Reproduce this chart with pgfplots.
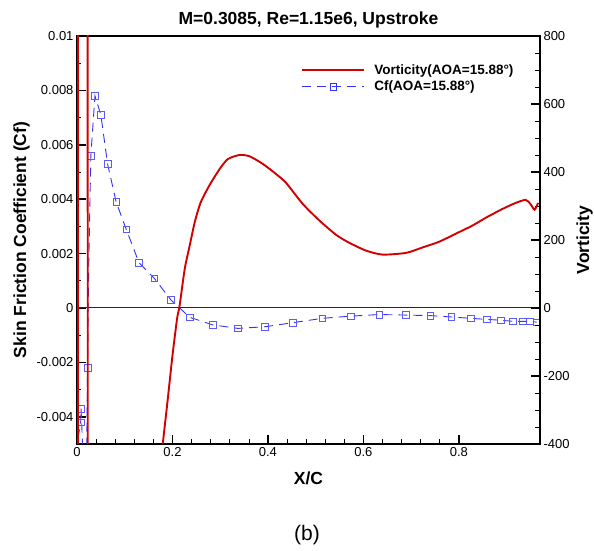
\documentclass[border=0pt]{standalone}
\usepackage{pgfplots}
\pgfplotsset{compat=1.18}
\usepackage{fontspec}
\setmainfont{Liberation Sans}
\definecolor{vred}{RGB}{210,0,0}
\definecolor{cfblue}{RGB}{50,50,245}
\pgfplotstableread{
x y
0.0015 -0.0070
0.0030 -0.0047
0.0077 -0.0042
0.0085 -0.0037
0.0140 -0.0060
0.0200 -0.0060
0.0220 -0.0022
0.0245 0.0015
0.0290 0.0056
0.0376 0.0078
0.0500 0.0071
0.0640 0.0053
0.0820 0.0039
0.1030 0.0029
0.1300 0.00166
0.1620 0.00109
0.1965 0.0003
0.2360 -0.00034
0.2840 -0.00062
0.3370 -0.00075
0.3940 -0.00069
0.4520 -0.00054
0.5140 -0.00038
0.5730 -0.00030
0.6330 -0.00024
0.6890 -0.00026
0.7400 -0.00028
0.7840 -0.00033
0.8250 -0.00038
0.8590 -0.00042
0.8880 -0.00045
0.9130 -0.00049
0.9340 -0.00049
0.9490 -0.00049
0.9630 -0.00052
}\cfdata
\pgfplotstableread{
x y
0.0077 -0.0042
0.0085 -0.0037
0.0220 -0.0022
0.0290 0.0056
0.0376 0.0078
0.0500 0.0071
0.0640 0.0053
0.0820 0.0039
0.1030 0.0029
0.1300 0.00166
0.1620 0.00109
0.1965 0.0003
0.2360 -0.00034
0.2840 -0.00062
0.3370 -0.00075
0.3940 -0.00069
0.4520 -0.00054
0.5140 -0.00038
0.5730 -0.00030
0.6330 -0.00024
0.6890 -0.00026
0.7400 -0.00028
0.7840 -0.00033
0.8250 -0.00038
0.8590 -0.00042
0.8880 -0.00045
0.9130 -0.00049
0.9340 -0.00049
0.9490 -0.00049
0.9630 -0.00052
}\cfmarks
\pgfplotstableread{
x y
0.0010 -5000
0.0030 5000
0.0210 5000
0.0240 -5000
0.1000 -3000
0.1780 -420
}\vortle
\pgfplotstableread{
x y
0.1780 -420
0.1900 -270
0.2000 -140
0.2096 -32
0.2150 7
0.2257 115
0.2360 183
0.2466 252
0.2590 310
0.2780 362
0.2990 409
0.3160 438
0.3407 450
0.3616 446
0.3890 424
0.4170 394
0.4380 368
0.4730 306
0.5080 257
0.5430 215
0.5700 192
0.6050 169
0.6400 157
0.6890 162
0.7240 178
0.7590 195
0.7930 218
0.8280 242
0.8560 265
0.8910 291
0.9190 309
0.9400 318
0.9500 306
0.9586 289
0.9660 309
}\vortdata
\pgfplotsset{
  every axis/.append style={
    scale only axis, width=463pt, height=408pt,
    at={(77pt,107pt)}, anchor=south west,
    xmin=0, xmax=0.97,
    axis line style={line width=1.6pt},
    tick label style={font=\fontsize{13}{15}\selectfont},
    label style={font=\bfseries\fontsize{17.5}{19}\selectfont},
    major tick length=9pt, minor tick length=4.5pt,
    every major tick/.append style={line width=1.6pt, black},
    every minor tick/.append style={line width=0.6pt, black},
    tick align=inside,
  },
}
\begin{document}
\begin{tikzpicture}
\useasboundingbox (0,0) rectangle (594pt,551pt);
\begin{axis}[
  ymin=-0.005, ymax=0.01,
  xtick={0,0.2,0.4,0.6,0.8},
  xticklabels={0,0.2,0.4,0.6,0.8},
  minor x tick num=4,
  ytick={-0.004,-0.002,0,0.002,0.004,0.006,0.008,0.01},
  yticklabels={-0.004,-0.002,0,0.002,0.004,0.006,0.008,0.01},
  minor y tick num=1,
  xtick pos=bottom, ytick pos=left,
  scaled x ticks=false, scaled y ticks=false,
  xlabel={X/C},
  xlabel style={yshift=-8pt},
  ylabel={Skin Friction Coefficient (Cf)},
  title={M=0.3085, Re=1.15e6, Upstroke},
  title style={font=\bfseries\fontsize{17.5}{19}\selectfont, yshift=-2pt},
]
\addplot[black!85, line width=1pt, forget plot] coordinates {(0,0) (0.97,0)};
\addplot[cfblue, line width=0.9pt, dash pattern=on 9pt off 6pt] table {\cfdata};
\addplot[cfblue!80!white, only marks, mark=square, mark size=3.3pt, mark options={solid, line width=0.6pt, fill=none}] table {\cfmarks};
\end{axis}
\begin{axis}[
  ymin=-400, ymax=800,
  axis x line=none,
  axis y line*=right,
  ytick={-400,-200,0,200,400,600,800},
  yticklabels={-400,-200,0,200,400,600,800},
  minor y tick num=3,
  ylabel={Vorticity},
  legend style={draw=none, fill=none, at={(0.478,0.94)}, anchor=north west,
    font=\bfseries\fontsize{13.5}{15}\selectfont, row sep=1pt,
    /tikz/every odd column/.append style={column sep=7pt}},
  legend cell align=left,
  legend image code/.code={\draw[mark repeat=2, mark phase=2, #1] plot coordinates {(0pt,0pt) (31pt,0pt) (62pt,0pt)};},
]
\addplot[vred, line width=1.9pt, smooth, tension=0.4] table {\vortdata};
\addlegendentry{Vorticity(AOA=15.88°)}
\addplot[vred, line width=1.9pt, forget plot] table {\vortle};
\addlegendimage{cfblue, line width=0.9pt, dash pattern=on 9pt off 6pt, mark=square, mark size=3.3pt, mark options={solid, line width=0.6pt, fill=white}}
\addlegendentry{Cf(AOA=15.88°)}
\end{axis}
\node[font=\fontsize{21}{23}\selectfont] at (307pt,16pt) {(b)};
\end{tikzpicture}
\end{document}
